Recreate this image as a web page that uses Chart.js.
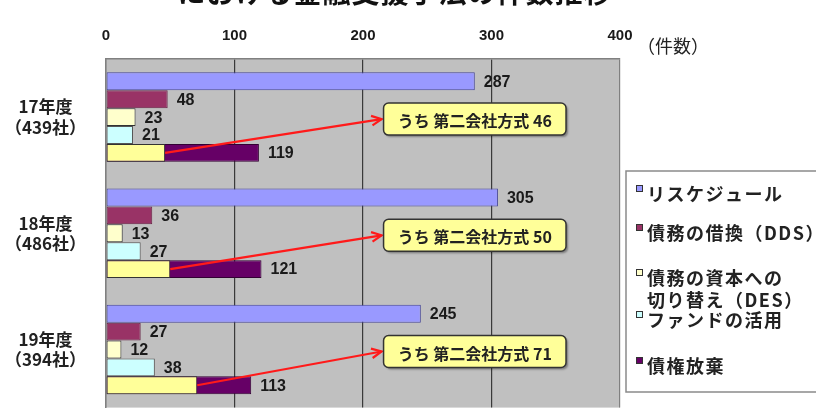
<!DOCTYPE html>
<html lang="ja">
<head>
<meta charset="utf-8">
<script src="https://cdn.jsdelivr.net/npm/chart.js@4.4.1/dist/chart.umd.min.js"></script>
<style>
  html, body { margin: 0; padding: 0; background: #fff; overflow: hidden; }
  #wrap { position: relative; width: 816px; height: 440px; }
</style>
</head>
<body>
<div id="wrap"><canvas id="myChart"></canvas></div>
<script>
// データ
const titleText = "における金融支援手法の件数推移";
const unitText = "（件数）";
const years = [["17年度", "（439社）"], ["18年度", "（486社）"], ["19年度", "（394社）"]];
const seriesNames = ["リスケジュール", "債務の借換（DDS）", "債務の資本への切り替え（DES）", "ファンドの活用", "債権放棄"];
const legendLines = [["リスケジュール"], ["債務の借換（DDS）"], ["債務の資本への", "切り替え（DES）"], ["ファンドの活用"], ["債権放棄"]];
const reschedule = [287, 305, 245];
const dds = [48, 36, 27];
const des = [23, 13, 12];
const fund = [21, 27, 38];
const waiver = [119, 121, 113];
const secondCompany = [46, 50, 71]; // うち第二会社方式
const calloutPrefix = "うち 第二会社方式 ";
const xTicks = [0, 100, 200, 300, 400];

const colors = ["#9999ff", "#993366", "#ffffcc", "#ccffff", "#660066"];
const overlayColor = "#ffff99";
const jp = '"Noto Sans CJK JP", sans-serif';
const num = '"Liberation Sans", Arial, sans-serif';

const barStyle = { borderColor: "#333", borderWidth: 1, borderSkipped: false, categoryPercentage: 0.77, barPercentage: 1.0 };

const datasets = [
  { label: seriesNames[0], data: reschedule, backgroundColor: colors[0], stack: "a", ...barStyle, borderColor: "#444499" },
  { label: seriesNames[1], data: dds, backgroundColor: colors[1], stack: "b", ...barStyle, borderColor: "#662244" },
  { label: seriesNames[2], data: des, backgroundColor: colors[2], stack: "c", ...barStyle },
  { label: seriesNames[3], data: fund, backgroundColor: colors[3], stack: "d", ...barStyle, borderColor: "#555" },
  { label: "うち第二会社方式", data: secondCompany, backgroundColor: overlayColor, stack: "e", ...barStyle, isOverlay: true },
  { label: seriesNames[4], data: waiver, backgroundColor: colors[4], stack: "e", ...barStyle, borderColor: "#330033" }
];

function roundRect(ctx, x, y, w, h, r) {
  ctx.beginPath();
  ctx.moveTo(x + r, y);
  ctx.arcTo(x + w, y, x + w, y + h, r);
  ctx.arcTo(x + w, y + h, x, y + h, r);
  ctx.arcTo(x, y + h, x, y, r);
  ctx.arcTo(x, y, x + w, y, r);
  ctx.closePath();
}

const decorations = {
  id: "decorations",
  beforeDraw(chart) {
    const { ctx, chartArea: a } = chart;
    ctx.save();
    ctx.fillStyle = "#c0c0c0";
    ctx.fillRect(a.left, a.top, a.right - a.left, a.bottom - a.top);
    ctx.restore();
  },
  afterDatasetsDraw(chart) {
    const { ctx, scales } = chart;
    ctx.save();
    // 値ラベル
    ctx.font = "bold 16px " + num;
    ctx.fillStyle = "#1a1a1a";
    ctx.textAlign = "left";
    ctx.textBaseline = "middle";
    chart.data.datasets.forEach((ds, di) => {
      if (ds.isOverlay) return;
      chart.getDatasetMeta(di).data.forEach((el, i) => {
        ctx.fillText(String(ds.data[i]), el.x + 9, el.y + 1);
      });
    });
    // 吹き出しと矢印
    const overlayIdx = chart.data.datasets.findIndex(d => d.isOverlay);
    const overlayMeta = chart.getDatasetMeta(overlayIdx);
    const bx1 = scales.x.getPixelForValue(216);
    const bx2 = scales.x.getPixelForValue(358);
    secondCompany.forEach((v, i) => {
      const cy = scales.y.getPixelForValue(i) + 2;
      const bh = 32;
      const el = overlayMeta.data[i];
      // arrow
      ctx.strokeStyle = "#ff1a1a";
      ctx.lineWidth = 2.2;
      ctx.beginPath();
      ctx.moveTo(el.x, el.y);
      ctx.lineTo(bx1 - 2, cy);
      ctx.stroke();
      const ang = Math.atan2(cy - el.y, bx1 - 2 - el.x);
      ctx.beginPath();
      ctx.moveTo(bx1 - 2 - 11 * Math.cos(ang - 0.45), cy - 11 * Math.sin(ang - 0.45));
      ctx.lineTo(bx1 - 2, cy);
      ctx.lineTo(bx1 - 2 - 11 * Math.cos(ang + 0.45), cy - 11 * Math.sin(ang + 0.45));
      ctx.stroke();
      // box
      ctx.save();
      ctx.shadowColor = "rgba(0,0,0,0.35)";
      ctx.shadowOffsetX = 2;
      ctx.shadowOffsetY = 2;
      ctx.shadowBlur = 2;
      roundRect(ctx, bx1, cy - bh / 2, bx2 - bx1, bh, 5);
      ctx.fillStyle = overlayColor;
      ctx.fill();
      ctx.restore();
      roundRect(ctx, bx1, cy - bh / 2, bx2 - bx1, bh, 5);
      ctx.strokeStyle = "#333";
      ctx.lineWidth = 1.5;
      ctx.stroke();
      ctx.fillStyle = "#222";
      ctx.font = "bold 16px " + jp;
      ctx.textAlign = "center";
      ctx.textBaseline = "middle";
      ctx.fillText(calloutPrefix + v, (bx1 + bx2) / 2, cy + 2);
    });
    ctx.restore();
  },
  afterDraw(chart) {
    const { ctx } = chart;
    ctx.save();
    // タイトル（上部が切れている）
    ctx.font = "bold 28px " + jp;
    ctx.letterSpacing = "1px";
    ctx.fillStyle = "#111";
    ctx.textAlign = "center";
    ctx.textBaseline = "alphabetic";
    ctx.fillText(titleText, 395, 3);
    ctx.letterSpacing = "0px";
    // 単位
    ctx.font = "18px " + jp;
    ctx.textAlign = "left";
    ctx.textBaseline = "middle";
    ctx.fillStyle = "#222";
    ctx.fillText(unitText, 637, 46);
    // 凡例
    const lx = 626, ly = 171, lb = 392;
    ctx.fillStyle = "#fff";
    ctx.fillRect(lx, ly, 816 - lx + 10, lb - ly);
    ctx.strokeStyle = "#8a8a8a";
    ctx.lineWidth = 1.5;
    ctx.strokeRect(lx, ly, 816 - lx + 10, lb - ly);
    const rowY = [194, 233, 278, 320, 366];
    ctx.font = "bold 18px " + jp;
    ctx.letterSpacing = "1.5px";
    ctx.textBaseline = "middle";
    legendLines.forEach((lines, i) => {
      const y = rowY[i];
      ctx.fillStyle = colors[i];
      ctx.fillRect(636, y - 9, 7, 7);
      ctx.strokeStyle = "#333";
      ctx.lineWidth = 1;
      ctx.strokeRect(636.5, y - 8.5, 6, 6);
      ctx.fillStyle = "#222";
      lines.forEach((t, k) => ctx.fillText(t, 647, y + k * 22));
    });
    ctx.restore();
  }
};

new Chart(document.getElementById("myChart").getContext("2d"), {
  type: "bar",
  data: { labels: years, datasets: datasets },
  options: {
    indexAxis: "y",
    responsive: true,
    maintainAspectRatio: false,
    animation: false,
    layout: { padding: { left: 0, right: 196, top: 0, bottom: 21 } },
    plugins: { legend: { display: false }, tooltip: { enabled: false }, title: { display: false } },
    scales: {
      x: {
        position: "top",
        stacked: false,
        min: 0,
        max: 400,
        afterBuildTicks: (s) => { s.ticks = xTicks.map(v => ({ value: v })); },
        afterFit: (s) => { s.height = 59; },
        grid: {
          color: (c) => (c.tick && (c.tick.value === 0 || c.tick.value === 400)) ? "#808080" : "#3a3a3a",
          lineWidth: 1.2,
          drawTicks: false
        },
        border: { display: true, color: "#808080", width: 1.5 },
        ticks: { font: { family: num, size: 15, weight: "bold" }, color: "#1a1a1a", padding: 14 }
      },
      y: {
        stacked: true,
        afterFit: (s) => { s.width = 106; },
        grid: { display: false },
        border: { display: true, color: "#808080", width: 1.5 },
        ticks: { font: { family: jp, size: 17, weight: "bold" }, color: "#222", padding: 12, crossAlign: "center" }
      }
    }
  },
  plugins: [decorations]
});
</script>
</body>
</html>
